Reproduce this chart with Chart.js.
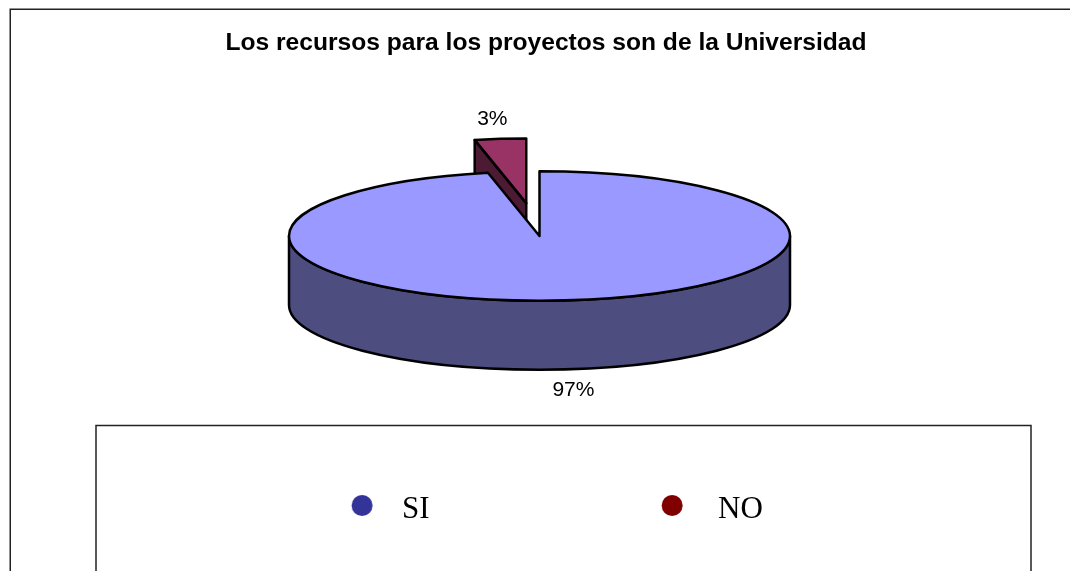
<!DOCTYPE html>
<html>
<head>
<meta charset="utf-8">
<title>Los recursos para los proyectos son de la Universidad</title>
<script src="https://cdn.jsdelivr.net/npm/chart.js@4/dist/chart.umd.min.js"></script>
<style>
    html, body { margin: 0; padding: 0; background: #fff; overflow: hidden; }
    canvas { display: block; }
</style>
</head>
<body>
<canvas id="chart" width="1070" height="571"></canvas>
<script>
// Chart data
const categories = ['SI', 'NO'];
const seriesValues = [96.7, 3.3];
const topColors = ['#9999FF', '#993366'];
const wallColors = ['#4D4D80', '#4D1A33'];
const legendColors = ['#333399', '#800000'];
const chartTitle = 'Los recursos para los proyectos son de la Universidad';

// Pie geometry (3D look: flattened pie plus a wall below it)
const pieX = 539.5;
const pieY = 236;
const pieRadius = 250.5;
const squash = 0.258;
const wallDepth = 69;
const explode = [0, 128];
const labelShift = [[8, 21], [-8, -20]];
const dotShift = [4.2, -1.8];

// Legend dot, placed a little off the middle of its image so it sits where the
// reference has it relative to the text
function legendDot(color, shift) {
    const c = document.createElement('canvas');
    c.width = 40;
    c.height = 30;
    const g = c.getContext('2d');
    g.fillStyle = color;
    g.beginPath();
    g.arc(20 + shift, 10.5, 10.5, 0, Math.PI * 2);
    g.fill();
    return c;
}

// Where a slice's tip sits in flattened screen coordinates
function sliceTip(arc, i) {
    const mid = (arc.startAngle + arc.endAngle) / 2;
    return {
        x: pieX + Math.cos(mid) * explode[i],
        y: pieY + Math.sin(mid) * explode[i] * squash
    };
}

function rimPoint(tip, angle) {
    return {
        x: tip.x + Math.cos(angle) * pieRadius,
        y: tip.y + Math.sin(angle) * pieRadius * squash
    };
}

const pie3d = {
    id: 'pie3d',

    // The dataset offset option also changes radius and angle of a slice,
    // so move exploded slices with a plain translate instead
    afterDatasetsUpdate(chart) {
        chart.getDatasetMeta(0).data.forEach((arc, i) => {
            if (arc.exploded || !explode[i]) return;
            arc.exploded = true;
            const draw = arc.draw;
            arc.draw = function(ctx, area) {
                const mid = (this.startAngle + this.endAngle) / 2;
                ctx.save();
                ctx.translate(Math.cos(mid) * explode[i], Math.sin(mid) * explode[i]);
                draw.call(this, ctx, area);
                ctx.restore();
            };
        });
    },

    // The big label padding needs the legend box higher than the layout leaves it
    afterLayout(chart) {
        const legend = chart.legend;
        legend.top = 510 - 15.5 - legend.options.labels.padding;
        legend.bottom = 571;
        legend.height = legend.bottom - legend.top;
    },

    beforeDraw(chart) {
        const ctx = chart.ctx;
        ctx.save();
        ctx.strokeStyle = '#222';
        ctx.lineWidth = 1.5;
        // outer frame, open on the right and at the bottom
        ctx.beginPath();
        ctx.moveTo(10.25, 600);
        ctx.lineTo(10.25, 9.25);
        ctx.lineTo(1075, 9.25);
        ctx.stroke();
        // legend frame, runs off the bottom of the picture
        ctx.strokeRect(96, 425.5, 935, 300);
        ctx.restore();
    },

    beforeDatasetsDraw(chart) {
        const ctx = chart.ctx;
        const arcs = chart.getDatasetMeta(0).data;
        ctx.save();
        ctx.lineWidth = 2.5;
        ctx.strokeStyle = '#000';
        ctx.lineJoin = 'round';

        // walls go first so the main top covers the wall of the small slice
        arcs.forEach((arc, i) => {
            const tip = sliceTip(arc, i);
            ctx.beginPath();
            if (explode[i] > 0) {
                const rim = rimPoint(tip, arc.startAngle);
                ctx.moveTo(rim.x, rim.y);
                ctx.lineTo(tip.x, tip.y);
                ctx.lineTo(tip.x, tip.y + wallDepth);
                ctx.lineTo(rim.x, rim.y + wallDepth);
            } else {
                const ry = pieRadius * squash;
                ctx.ellipse(tip.x, tip.y, pieRadius, ry, 0, 0, Math.PI);
                ctx.ellipse(tip.x, tip.y + wallDepth, pieRadius, ry, 0, Math.PI, 0, true);
            }
            ctx.closePath();
            ctx.fillStyle = wallColors[i];
            ctx.fill();
            ctx.stroke();
        });
        ctx.restore();

        // flatten what the library draws next
        const first = arcs[0];
        ctx.save();
        ctx.translate(pieX, pieY);
        ctx.scale(1, squash);
        ctx.translate(-first.x, -first.y);
    },

    afterDatasetsDraw(chart) {
        const ctx = chart.ctx;
        ctx.restore();
        const arcs = chart.getDatasetMeta(0).data;
        const total = seriesValues.reduce((a, b) => a + b, 0);

        ctx.save();
        ctx.lineWidth = 2.5;
        ctx.strokeStyle = '#000';
        ctx.lineJoin = 'round';
        arcs.forEach((arc, i) => {
            const tip = sliceTip(arc, i);
            ctx.beginPath();
            ctx.moveTo(tip.x, tip.y);
            ctx.ellipse(tip.x, tip.y, pieRadius, pieRadius * squash, 0, arc.startAngle, arc.endAngle);
            ctx.closePath();
            ctx.stroke();
        });

        // percent labels
        ctx.fillStyle = '#000';
        ctx.font = '21px "Liberation Sans"';
        ctx.textAlign = 'center';
        ctx.textBaseline = 'middle';
        arcs.forEach((arc, i) => {
            const mid = (arc.startAngle + arc.endAngle) / 2;
            const p = rimPoint(sliceTip(arc, i), mid);
            const drop = explode[i] > 0 ? 0 : wallDepth;
            const text = Math.round(seriesValues[i] / total * 100) + '%';
            ctx.fillText(text, p.x + labelShift[i][0], p.y + drop + labelShift[i][1]);
        });
        ctx.restore();
    }
};

new Chart(document.getElementById('chart'), {
    type: 'pie',
    data: {
        labels: categories,
        datasets: [{
            data: seriesValues,
            backgroundColor: topColors,
            borderWidth: 0
        }]
    },
    options: {
        responsive: false,
        animation: false,
        radius: pieRadius,
        layout: { padding: { left: 22 } },
        plugins: {
            tooltip: { enabled: false },
            title: {
                display: true,
                text: chartTitle,
                color: '#000',
                font: { family: '"Liberation Sans"', size: 24.6, weight: 'bold' },
                padding: { top: 28, bottom: 10 }
            },
            legend: {
                position: 'bottom',
                labels: {
                    usePointStyle: true,
                    pointStyleWidth: 57.3,
                    padding: 215.7,
                    color: '#000',
                    font: { family: '"Liberation Serif"', size: 31 },
                    generateLabels: () => categories.map((text, i) => ({
                        text: text,
                        fontColor: '#000',
                        pointStyle: legendDot(legendColors[i], dotShift[i]),
                        lineWidth: 0,
                        index: i
                    }))
                }
            }
        }
    },
    plugins: [pie3d]
});
</script>
</body>
</html>
